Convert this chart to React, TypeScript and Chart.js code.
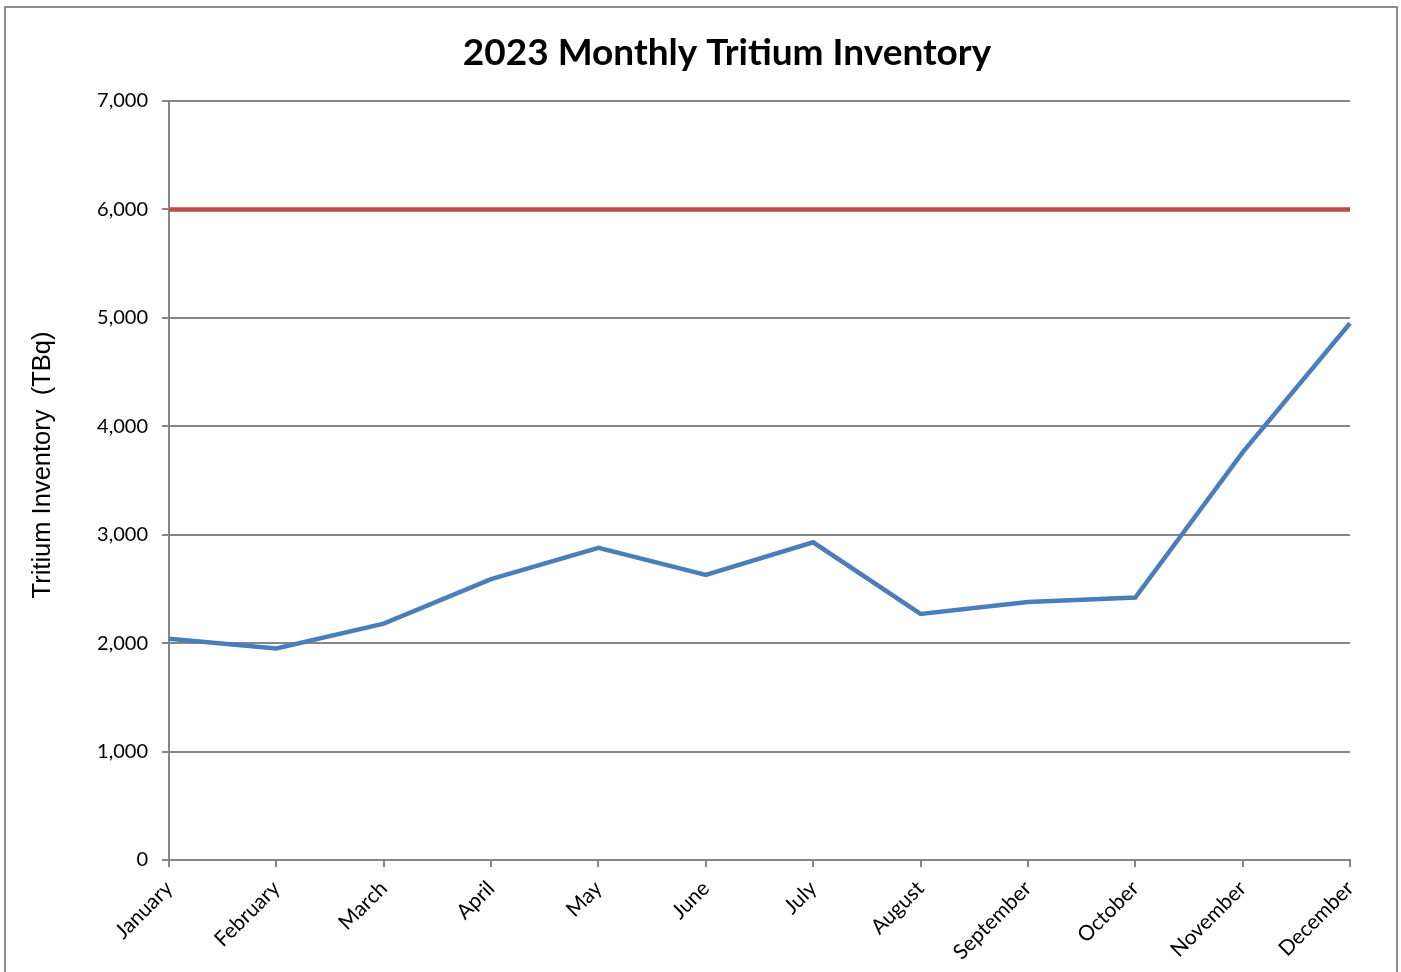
import React, { useEffect, useRef } from "react";
import { Chart, registerables } from "chart.js";

Chart.register(...registerables);

const TITLE = "2023 Monthly Tritium Inventory";
const Y_TITLE = "Tritium Inventory  (TBq)";
const MONTHS = [
  "January", "February", "March", "April", "May", "June",
  "July", "August", "September", "October", "November", "December",
];
const INVENTORY = [2040, 1950, 2180, 2590, 2880, 2630, 2930, 2270, 2380, 2420, 3760, 4950];
const LIMIT = [6000, 6000, 6000, 6000, 6000, 6000, 6000, 6000, 6000, 6000, 6000, 6000];
const Y_MIN = 0;
const Y_MAX = 7000;
const Y_STEP = 1000;

const frameAndTitle = {
  id: "frameAndTitle",
  beforeDraw(chart: any) {
    const { ctx } = chart;
    ctx.save();
    ctx.fillStyle = "#ffffff";
    ctx.fillRect(0, 0, chart.width, chart.height);
    ctx.strokeStyle = "#8c8c8c";
    ctx.lineWidth = 2;
    ctx.strokeRect(5, 7, 1392, 1000);
    ctx.restore();
  },
  afterDraw(chart: any) {
    const { ctx } = chart;
    ctx.save();
    ctx.fillStyle = "#000000";
    ctx.font = "bold 37px Lato";
    ctx.textAlign = "center";
    ctx.textBaseline = "middle";
    ctx.fillText(TITLE, 727, 53);
    ctx.translate(43, 465);
    ctx.rotate(-Math.PI / 2);
    ctx.font = "25.5px 'Liberation Sans'";
    ctx.fillText(Y_TITLE, 0, 0);
    ctx.restore();
  },
};

export default function App() {
  const ref = useRef<HTMLCanvasElement | null>(null);
  useEffect(() => {
    document.body.style.margin = "0";
    const chart = new Chart(ref.current as HTMLCanvasElement, {
      type: "line",
      data: {
        labels: MONTHS,
        datasets: [
          {
            label: "Limit",
            data: LIMIT,
            borderColor: "#BE4B48",
            borderWidth: 4.5,
            pointRadius: 0,
            fill: false,
          },
          {
            label: "Inventory",
            data: INVENTORY,
            borderColor: "#4A7EBB",
            borderWidth: 4.5,
            pointRadius: 0,
            fill: false,
            tension: 0,
          },
        ],
      },
      options: {
        animation: false,
        responsive: false,
        maintainAspectRatio: false,
        layout: { padding: { left: 0, right: 51, top: 101, bottom: 0 } },
        plugins: {
          legend: { display: false },
          title: { display: false },
          tooltip: { enabled: false },
        },
        scales: {
          x: {
            type: "category",
            offset: false,
            grid: {
              display: true,
              drawOnChartArea: false,
              drawTicks: true,
              tickLength: 7,
              color: "#868686",
              lineWidth: 2,
            },
            border: { display: true, color: "#868686", width: 2 },
            ticks: {
              color: "#000000",
              font: { family: "Lato", size: 21 },
              minRotation: 45,
              maxRotation: 45,
              padding: 9,
              autoSkip: false,
            },
            afterFit(scale: any) {
              scale.height = 112;
            },
          },
          y: {
            min: Y_MIN,
            max: Y_MAX,
            grid: {
              display: true,
              drawOnChartArea: true,
              drawTicks: true,
              tickLength: 7,
              color: "#868686",
              lineWidth: 2,
            },
            border: { display: true, color: "#868686", width: 2 },
            ticks: {
              stepSize: Y_STEP,
              color: "#000000",
              font: { family: "Lato", size: 20 },
              padding: 14,
              callback: (v: any) => Number(v).toLocaleString("en-US"),
            },
            title: { display: false },
            afterFit(scale: any) {
              scale.width = 169;
            },
          },
        },
      },
      plugins: [frameAndTitle],
    });
    return () => chart.destroy();
  }, []);
  return (
    <div style={{ position: "absolute", left: 0, top: 0, width: 1401, height: 972 }}>
      <canvas ref={ref} width={1401} height={972} style={{ width: 1401, height: 972, display: "block" }} />
    </div>
  );
}
